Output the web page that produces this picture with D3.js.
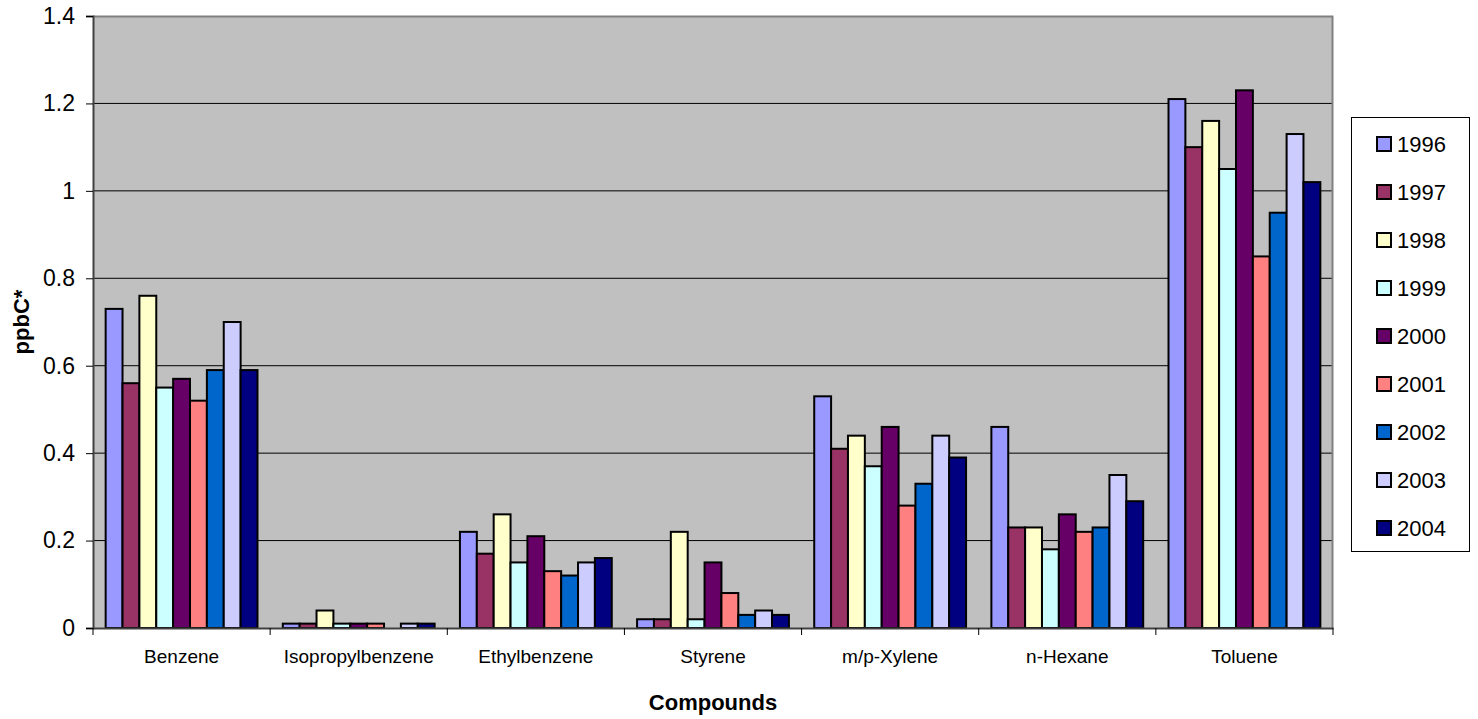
<html>
  <meta charset="utf-8" />
  <script src="https://d3js.org/d3.v7.min.js"></script>
  <body style="margin: 0; background: #fff">
    <svg width="1478" height="719" id="chart"></svg>
    <script>
      // values (ppbC)
      const compounds = ["Benzene", "Isopropylbenzene", "Ethylbenzene", "Styrene", "m/p-Xylene", "n-Hexane", "Toluene"];
      const years = ["1996", "1997", "1998", "1999", "2000", "2001", "2002", "2003", "2004"];
      const colors = ["#9999ff", "#993366", "#ffffcc", "#ccffff", "#660066", "#ff8080", "#0066cc", "#ccccff", "#000080"];

      const v1996 = [0.73, 0.01, 0.22, 0.02, 0.53, 0.46, 1.21];
      const v1997 = [0.56, 0.01, 0.17, 0.02, 0.41, 0.23, 1.10];
      const v1998 = [0.76, 0.04, 0.26, 0.22, 0.44, 0.23, 1.16];
      const v1999 = [0.55, 0.01, 0.15, 0.02, 0.37, 0.18, 1.05];
      const v2000 = [0.57, 0.01, 0.21, 0.15, 0.46, 0.26, 1.23];
      const v2001 = [0.52, 0.01, 0.13, 0.08, 0.28, 0.22, 0.85];
      const v2002 = [0.59, 0, 0.12, 0.03, 0.33, 0.23, 0.95];
      const v2003 = [0.70, 0.01, 0.15, 0.04, 0.44, 0.35, 1.13];
      const v2004 = [0.59, 0.01, 0.16, 0.03, 0.39, 0.29, 1.02];
      const series = [v1996, v1997, v1998, v1999, v2000, v2001, v2002, v2003, v2004];

      const yTicks = [0, 0.2, 0.4, 0.6, 0.8, 1, 1.2, 1.4];

      const pLeft = 93, pRight = 1333, pTop = 16, pBottom = 628;
      const width = pRight - pLeft;
      const height = pBottom - pTop;

      const svg = d3.select("#chart").style("font-family", "Arial, 'Liberation Sans', sans-serif");
      const chart = svg.append("g").attr("transform", `translate(${pLeft}, ${pTop})`);

      const x0 = d3.scaleBand().domain(compounds).range([0, width]);
      // excel gap width 150% -> 0.75 bar each side
      const bw = x0.bandwidth() / (years.length + 1.5);
      const x1 = d3.scaleBand().domain(years).range([0.75 * bw, x0.bandwidth() - 0.75 * bw]);
      const y = d3.scaleLinear().domain([0, 1.4]).range([height, 0]);

      chart.append("rect")
        .attr("width", width)
        .attr("height", height)
        .attr("fill", "#c0c0c0");

      // gridlines
      chart.selectAll(".grid")
        .data(yTicks.filter((t) => t > 0 && t < 1.4))
        .enter()
        .append("line")
        .attr("x1", 0)
        .attr("x2", width)
        .attr("y1", (d) => y(d))
        .attr("y2", (d) => y(d))
        .attr("stroke", "#000")
        .attr("stroke-width", 1);

      // plot border top/right
      chart.append("path")
        .attr("d", `M0,0.5H${width - 0.5}V${height}`)
        .attr("fill", "none")
        .attr("stroke", "#808080")
        .attr("stroke-width", 2);

      const rows = [];
      compounds.forEach((c, i) => {
        years.forEach((yr, j) => {
          rows.push({ c: c, yr: yr, v: series[j][i], color: colors[j] });
        });
      });

      chart.selectAll(".bar")
        .data(rows.filter((d) => d.v > 0))
        .enter()
        .append("rect")
        .attr("class", "bar")
        .attr("x", (d) => x0(d.c) + x1(d.yr))
        .attr("y", (d) => y(d.v))
        .attr("width", x1.bandwidth())
        .attr("height", (d) => y(0) - y(d.v))
        .attr("fill", (d) => d.color)
        .attr("stroke", "#000")
        .attr("stroke-width", 2);

      // y axis
      const yAxis = chart.append("g")
        .call(d3.axisLeft(y).tickValues(yTicks).tickFormat((d) => d3.format("")(+d.toFixed(1))).tickSize(7).tickPadding(11));
      yAxis.select(".domain").attr("stroke", "#404040").attr("stroke-width", 2);
      yAxis.selectAll(".tick line").attr("stroke", "#000");
      yAxis.selectAll("text").attr("font-size", 23).attr("fill", "#000").attr("font-family", "Arial, 'Liberation Sans', sans-serif");

      // x axis
      const xAxis = chart.append("g")
        .attr("transform", `translate(0, ${height})`)
        .call(d3.axisBottom(x0).tickSize(0).tickPadding(22));
      xAxis.select(".domain").attr("stroke", "#404040").attr("stroke-width", 2);
      xAxis.selectAll("text").attr("font-size", 19).attr("fill", "#000").attr("font-family", "Arial, 'Liberation Sans', sans-serif");
      chart.selectAll(".xtick")
        .data(compounds.map((c) => x0(c)).concat([width]))
        .enter()
        .append("line")
        .attr("x1", (d) => d)
        .attr("x2", (d) => d)
        .attr("y1", height)
        .attr("y2", height + 7)
        .attr("stroke", "#000");

      // axis titles
      svg.append("text")
        .attr("transform", `translate(29, ${pTop + height / 2}) rotate(-90)`)
        .attr("text-anchor", "middle")
        .attr("font-size", 22)
        .attr("font-weight", "bold")
        .text("ppbC*");

      svg.append("text")
        .attr("x", pLeft + width / 2)
        .attr("y", 710)
        .attr("text-anchor", "middle")
        .attr("font-size", 22)
        .attr("font-weight", "bold")
        .text("Compounds");

      // legend
      const legend = svg.append("g");
      legend.append("rect")
        .attr("x", 1351.5)
        .attr("y", 117.5)
        .attr("width", 118)
        .attr("height", 434)
        .attr("fill", "#fff")
        .attr("stroke", "#000")
        .attr("stroke-width", 1);

      const item = legend.selectAll(".item")
        .data(years)
        .enter()
        .append("g")
        .attr("transform", (d, i) => `translate(1377, ${144 + i * 48})`);
      item.append("rect")
        .attr("x", 0)
        .attr("y", -7)
        .attr("width", 14)
        .attr("height", 14)
        .attr("fill", (d, i) => colors[i])
        .attr("stroke", "#000")
        .attr("stroke-width", 2);
      item.append("text")
        .attr("x", 20)
        .attr("y", 8)
        .attr("font-size", 22)
        .text((d) => d);
    </script>
  </body>
</html>
